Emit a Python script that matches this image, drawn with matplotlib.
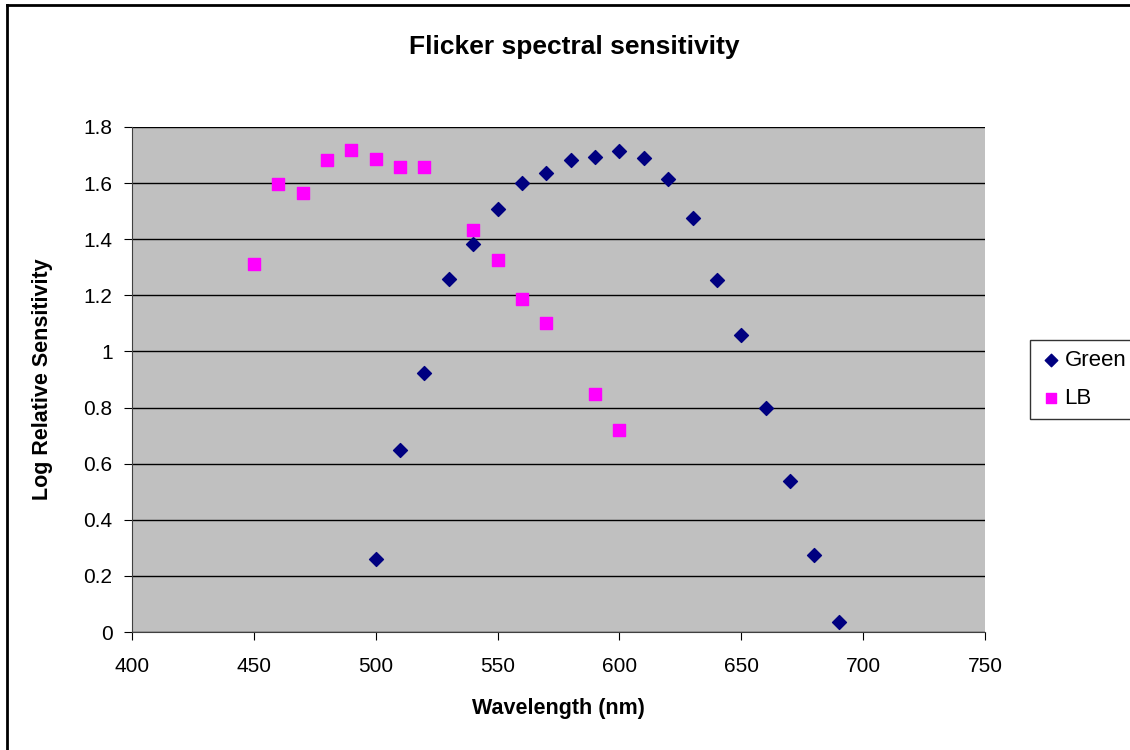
import matplotlib
matplotlib.use("Agg")
import matplotlib.pyplot as plt
from matplotlib.lines import Line2D

plt.rcParams['font.family'] = ['Liberation Sans', 'DejaVu Sans']

green_x = [500, 510, 520, 530, 540, 550, 560, 570, 580, 590, 600, 610, 620, 630, 640, 650, 660, 670, 680, 690]
green_y = [0.26, 0.65, 0.923, 1.26, 1.383, 1.507, 1.600, 1.636, 1.682, 1.693, 1.714, 1.689, 1.614, 1.475, 1.254, 1.058, 0.798, 0.538, 0.274, 0.036]
lb_x = [450, 460, 470, 480, 490, 500, 510, 520, 540, 550, 560, 570, 590, 600]
lb_y = [1.311, 1.597, 1.565, 1.682, 1.718, 1.686, 1.657, 1.657, 1.433, 1.326, 1.187, 1.101, 0.848, 0.72]

W, H = 1130, 750
fig = plt.figure(figsize=(11.3, 7.5), dpi=100)
# outer chart frame (left and top edges visible)
fig.add_artist(Line2D([7/W, 7/W], [0, 1 - 5/H], transform=fig.transFigure, color='black', linewidth=2))
fig.add_artist(Line2D([7/W, 1], [1 - 5/H, 1 - 5/H], transform=fig.transFigure, color='black', linewidth=2))

ax = fig.add_axes([132/W, 1 - 632/H, 853/W, 505/H])
ax.set_facecolor('#c0c0c0')
ax.set_xlim(400, 750)
ax.set_ylim(0, 1.8)
ax.set_xticks(range(400, 751, 50))
ax.set_yticks([0, 0.2, 0.4, 0.6, 0.8, 1, 1.2, 1.4, 1.6, 1.8])
ax.set_yticklabels(['0', '0.2', '0.4', '0.6', '0.8', '1', '1.2', '1.4', '1.6', '1.8'])
ax.grid(axis='y', color='black', linewidth=1)
ax.set_axisbelow(True)
for s in ['top', 'right']:
    ax.spines[s].set_visible(False)
for s in ['left', 'bottom']:
    ax.spines[s].set_color('#404040')
ax.tick_params(direction='out', length=6, labelsize=15, colors='black')
ax.tick_params(axis='x', pad=12)
ax.tick_params(axis='y', pad=8)

ax.scatter(green_x, green_y, marker='D', s=50, color='#000080', label='Green', zorder=3)
ax.scatter(lb_x, lb_y, marker='s', s=70, color='#ff00ff', label='LB', zorder=3)

fig.text(574/W, 1 - 47/H, 'Flicker spectral sensitivity', fontsize=19, fontweight='bold',
         ha='center', va='center')
ax.set_xlabel('Wavelength (nm)', fontsize=15.5, fontweight='bold', labelpad=16)
ax.set_ylabel('Log Relative Sensitivity', fontsize=15.5, fontweight='bold', labelpad=22)

leg = fig.legend(loc='upper left', bbox_to_anchor=(1030/W, 1 - 340/H), fontsize=16,
                 frameon=True, fancybox=False, edgecolor='black', handletextpad=0.1,
                 borderpad=0.45, labelspacing=0.75, handlelength=1.0, markerscale=0.9,
                 borderaxespad=0)
leg.get_frame().set_linewidth(1)

fig.savefig('out.png', dpi=100)
